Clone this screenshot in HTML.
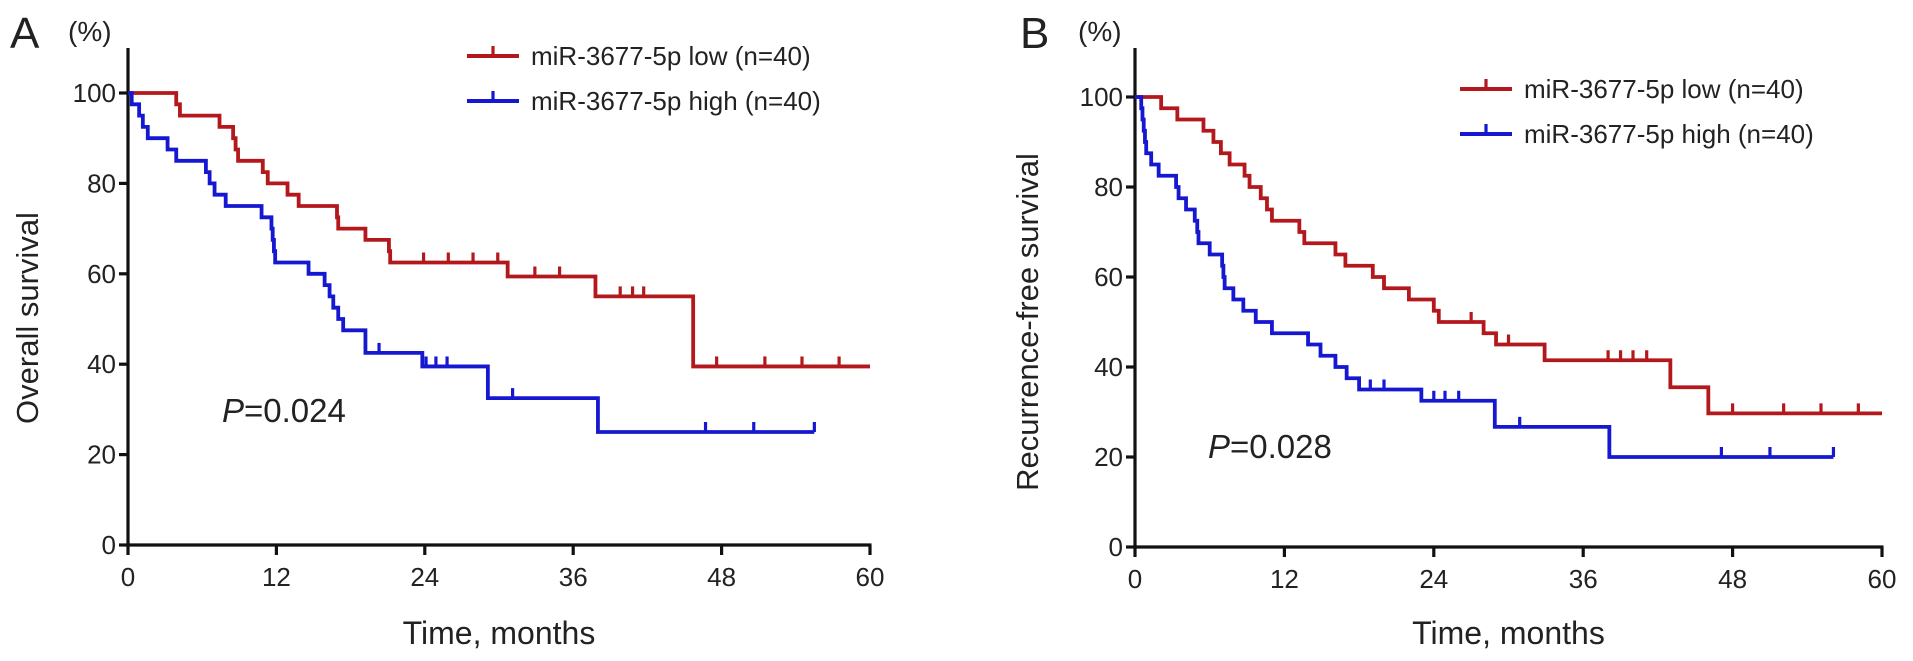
<!DOCTYPE html>
<html><head><meta charset="utf-8"><style>
body{margin:0;background:#fff;width:1913px;height:661px;overflow:hidden}
svg{display:block;font-family:"Liberation Sans",Arial,sans-serif;fill:#222}
</style></head><body>
<svg id="chart" width="1913" height="661" viewBox="0 0 1913 661"></svg>
<script>
// Panel A (overall survival)
const ticksX = [0, 12, 24, 36, 48, 60];
const ticksY = [0, 20, 40, 60, 80, 100];
const aLowT = [0, 3.9, 4.2, 7.4, 8.5, 8.7, 8.9, 10.9, 11.3, 12.9, 13.8, 16.9, 17.0, 19.2, 21.1, 21.2, 30.7, 37.8, 45.7];
const aLowV = [100, 97.5, 95, 92.5, 90, 87.5, 85, 82.5, 80, 77.5, 75, 72.5, 70, 67.5, 65, 62.5, 59.4, 55, 39.5];
const aLowCens = [23.9, 25.9, 27.9, 29.9, 32.9, 34.9, 39.8, 40.8, 41.7, 47.6, 51.5, 54.5, 57.5];
const aLowEnd = 60;
const aHighT = [0, 0.3, 0.9, 1.2, 1.6, 3.2, 3.9, 6.3, 6.6, 7.0, 7.9, 10.8, 11.6, 11.7, 11.8, 11.9, 14.6, 15.9, 16.3, 16.6, 17.0, 17.4, 19.2, 23.8, 29.1, 38.0];
const aHighV = [100, 97.5, 95, 92.5, 90, 87.5, 85, 82.5, 80, 77.5, 75, 72.5, 70, 67.5, 65, 62.5, 60, 57.5, 55, 52.5, 50, 47.5, 42.5, 39.5, 32.5, 25];
const aHighCens = [20.3, 24.1, 24.9, 25.8, 31.1, 46.7, 50.6, 55.5];
const aHighEnd = 55.5;
// Panel B (recurrence-free survival)
const bLowT = [0, 2.1, 3.4, 5.5, 6.3, 6.9, 7.6, 8.8, 9.2, 10.1, 10.6, 11.0, 13.2, 13.6, 16.1, 16.9, 19.1, 20.0, 22.0, 24.0, 24.4, 28.0, 29.0, 32.9, 43.0, 46.05];
const bLowV = [100, 97.5, 95, 92.5, 90, 87.5, 85, 82.5, 80, 77.5, 75, 72.5, 70, 67.5, 65, 62.5, 60, 57.5, 55, 52.5, 50, 47.5, 45, 41.5, 35.5, 29.7];
const bLowCens = [27.0, 30.0, 38.0, 39.0, 40.0, 41.1, 48.0, 52.1, 55.1, 58.1];
const bLowEnd = 60;
const bHighT = [0, 0.5, 0.6, 0.7, 0.8, 0.9, 1.3, 1.9, 3.3, 3.5, 4.1, 4.8, 5.0, 5.1, 6.0, 7.0, 7.1, 7.2, 7.9, 8.7, 9.7, 11.0, 13.9, 14.9, 16.1, 17.0, 18.0, 23.0, 28.9, 38.1];
const bHighV = [100, 97.5, 95, 92.5, 90, 87.5, 85, 82.5, 80, 77.5, 75, 72.5, 70, 67.5, 65, 62.5, 60, 57.5, 55, 52.5, 50, 47.5, 45, 42.5, 40, 37.5, 35, 32.5, 26.7, 20];
const bHighCens = [18.9, 20.0, 24.0, 24.9, 26.0, 30.9, 47.1, 51.0, 56.1];
const bHighEnd = 56.1;

const NS = "http://www.w3.org/2000/svg";
const svg = document.getElementById("chart");
function mk(tag, attrs, parent) {
  const e = document.createElementNS(NS, tag);
  for (const k in attrs) e.setAttribute(k, attrs[k]);
  (parent || svg).appendChild(e);
  return e;
}
const RED = "#b3191c", BLUE = "#1518d0";

function panel(cfg) {
  const g = mk("g", {});
  
  
  const xs = t => cfg.x0 + (cfg.x60 - cfg.x0) * t / 60;
  const ys = v => cfg.y0 - (cfg.y0 - cfg.y100) * v / 100;
  const ya = mk("line", {x1: cfg.x0, y1: cfg.yTop, x2: cfg.x0, y2: cfg.y0 + 1.5, stroke: "#111", "stroke-width": 3.2}, g);
  
  
  const xa = mk("line", {x1: cfg.x0 - 1.5, y1: cfg.y0, x2: cfg.x60 + 1.5, y2: cfg.y0, stroke: "#111", "stroke-width": 3.2}, g);
  
  
  ticksY.forEach(v => {
    mk("line", {x1: cfg.x0 - 9, y1: ys(v), x2: cfg.x0, y2: ys(v), stroke: "#111", "stroke-width": 3.2}, g);
    const t = mk("text", {x: cfg.x0 - 12, y: ys(v) + 9, "text-anchor": "end", "font-size": 26}, g);
    t.textContent = v;
    
    
  });
  ticksX.forEach(v => {
    mk("line", {x1: xs(v), y1: cfg.y0, x2: xs(v), y2: cfg.y0 + 10, stroke: "#111", "stroke-width": 3.2}, g);
    const t = mk("text", {x: xs(v), y: cfg.y0 + 41, "text-anchor": "middle", "font-size": 26}, g);
    t.textContent = v;
    
    
  });
  const xt = mk("text", {x: (cfg.x0 + cfg.x60) / 2, y: 644, "text-anchor": "middle", "font-size": 32}, g);
  xt.textContent = "Time, months";
  
  
  const ytl = mk("text", {x: 0, y: 0, "text-anchor": "middle", "font-size": 31, transform: `translate(${cfg.ytX},${cfg.ytY}) rotate(-90)`}, g);
  ytl.textContent = cfg.ytitle;
  
  
  const pl = mk("text", {x: cfg.letterX, y: 48, "font-size": 44}, g);
  pl.textContent = cfg.letter;
  
  
  const pc = mk("text", {x: cfg.letterX + 58, y: 41, "font-size": 28}, g);
  pc.textContent = "(%)";
  
  
  const pv = mk("text", {x: cfg.pX, y: cfg.pY, "font-size": 33}, g);
  pv.innerHTML = '<tspan font-style="italic">P</tspan>=' + cfg.p;
  
  

  function series(T, V, C, end, color, nm) {
    let d = `M${xs(T[0])},${ys(V[0])}`;
    for (let i = 1; i < T.length; i++) d += ` H${xs(T[i])} V${ys(V[i])}`;
    d += ` H${xs(end)}`;
    const p = mk("path", {d: d, fill: "none", stroke: color, "stroke-width": 3.8, "stroke-linejoin": "miter"}, g);
    
    
    C.forEach(c => {
      let v = V[0];
      for (let i = 0; i < T.length; i++) if (T[i] <= c) v = V[i];
      const tk = mk("line", {x1: xs(c), y1: ys(v), x2: xs(c), y2: ys(v) - 10, stroke: color, "stroke-width": 3.2}, g);
      
      
    });
  }
  series(cfg.lowT, cfg.lowV, cfg.lowC, cfg.lowE, RED, 'low-group');
  series(cfg.highT, cfg.highV, cfg.highC, cfg.highE, BLUE, 'high-group');

  [["miR-3677-5p low (n=40)", RED, cfg.legY], ["miR-3677-5p high (n=40)", BLUE, cfg.legY + 45]].forEach(([lab, col, y], i) => {
    const lg = mk("g", {}, g);
    
    
    mk("line", {x1: cfg.legX, y1: y, x2: cfg.legX + 52, y2: y, stroke: col, "stroke-width": 4}, lg);
    mk("line", {x1: cfg.legX + 26, y1: y, x2: cfg.legX + 26, y2: y - 10, stroke: col, "stroke-width": 3.2}, lg);
    const t = mk("text", {x: cfg.legX + 64, y: y + 9, "font-size": 26}, lg);
    t.textContent = lab;
  });
}

panel({name: 'panel-a-overall-survival', x0: 128, x60: 870, y0: 545, y100: 93, yTop: 48,
  ytitle: "Overall survival", ytX: 38, ytY: 318, letter: "A", letterX: 10,
  p: "0.024", pX: 222, pY: 422, legX: 467, legY: 56,
  lowT: aLowT, lowV: aLowV, lowC: aLowCens, lowE: aLowEnd,
  highT: aHighT, highV: aHighV, highC: aHighCens, highE: aHighEnd});
panel({name: 'panel-b-recurrence-free-survival', x0: 1135, x60: 1882, y0: 547, y100: 97, yTop: 48,
  ytitle: "Recurrence-free survival", ytX: 1038, ytY: 322, letter: "B", letterX: 1020,
  p: "0.028", pX: 1208, pY: 458, legX: 1460, legY: 89,
  lowT: bLowT, lowV: bLowV, lowC: bLowCens, lowE: bLowEnd,
  highT: bHighT, highV: bHighV, highC: bHighCens, highE: bHighEnd});
</script>
</body></html>
